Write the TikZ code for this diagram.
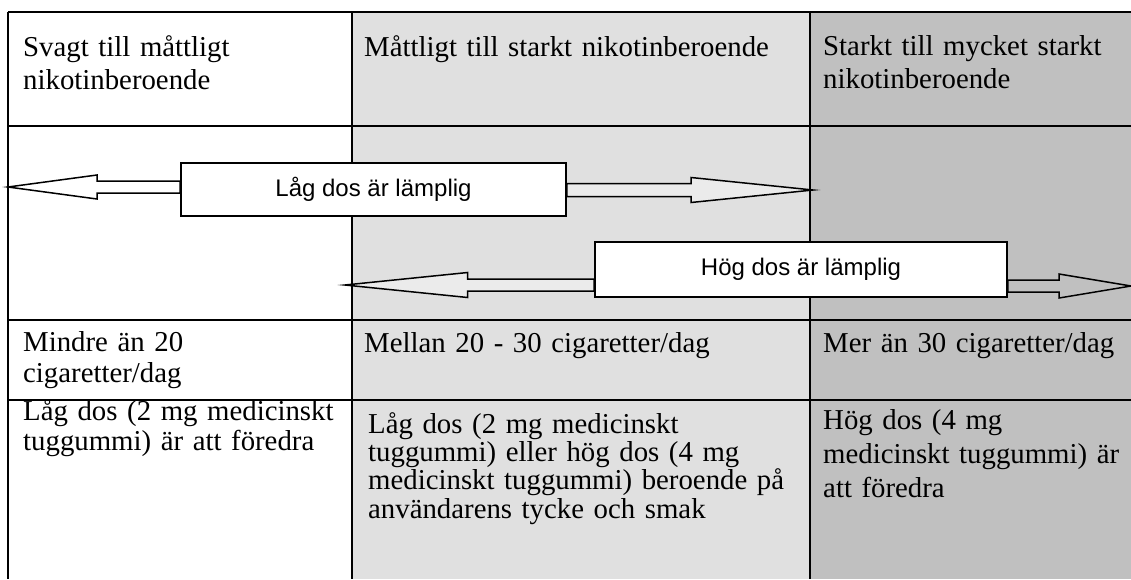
\documentclass[tikz,border=0pt]{standalone}
\usepackage{fontspec}
\setmainfont{Liberation Serif}
\setsansfont{Liberation Sans}
\usetikzlibrary{calc}
\definecolor{cellmid}{HTML}{E0E0E0}
\definecolor{celldark}{HTML}{C0C0C0}
\definecolor{arrowfill}{HTML}{EBEBEB}
\begin{document}
\begin{tikzpicture}[x=1pt,y=-1pt,
  cell/.style={anchor=base west, inner sep=0pt, align=left, text width=600pt,
    font=\fontsize{28.8}{#1}\selectfont},
  tableline/.style={line width=2pt, black},
  dosebox/.style={draw=black, line width=1.8pt, fill=white, inner sep=0pt,
    font=\sffamily\fontsize{24}{28}\selectfont},
  blockarrow/.style={draw=black, line width=1.5pt, line join=miter}]
\useasboundingbox (0,0) rectangle (1131,579);
% column shading
\fill[cellmid] (352,12) rectangle (810,579);
\fill[celldark] (810,12) rectangle (1131,579);
% table rules
\draw[tableline] (8,12) -- (1131,12);
\draw[tableline] (8,126) -- (1131,126);
\draw[tableline] (8,320) -- (1131,320);
\draw[tableline] (8,400) -- (1131,400);
\draw[tableline] (8,12) -- (8,579);
\draw[tableline] (352,12) -- (352,579);
\draw[tableline] (810,12) -- (810,579);
% texts
\node[cell=32.5] (h1) at (23,56.5) {Svagt till måttligt\\nikotinberoende};
\node[cell=32.5] (h2) at (364,56.5) {Måttligt till starkt nikotinberoende};
\node[cell=33] (h3) at (823,55.5) {Starkt till mycket starkt\\nikotinberoende};
\node[cell=31] (r1) at (23,351) {Mindre än 20\\cigaretter/dag};
\node[cell=31] (r2) at (364,352.5) {Mellan 20 - 30 cigaretter/dag};
\node[cell=31] (r3) at (823,352.5) {Mer än 30 cigaretter/dag};
\node[cell=30] (d1) at (23,420) {Låg dos (2 mg medicinskt\\tuggummi) är att föredra};
\node[cell=28.4] (d2) at (368,433) {Låg dos (2 mg medicinskt\\tuggummi) eller hög dos (4 mg\\medicinskt tuggummi) beroende på\\användarens tycke och smak};
\node[cell=34] (d3) at (823,429.5) {Hög dos (4 mg\\medicinskt tuggummi) är\\att föredra};
% box placeholders (for anchors; the visible boxes are drawn on top later)
\path (373.5,189.5) node[dosebox, draw=none, fill=none, text opacity=0, minimum width=385pt, minimum height=53pt] (low) {Låg dos är lämplig};
\path (801,269.5) node[dosebox, draw=none, fill=none, text opacity=0, minimum width=412pt, minimum height=55pt] (high) {Hög dos är lämplig};
% arrow tips
\coordinate (lowL) at (8,187);
\coordinate (lowR) at (813,190);
\coordinate (highL) at (345,285);
\coordinate (highR) at (1131,286);
% block arrows
\draw[blockarrow, fill=white] (lowL) -- ++(89,-12) -- ++(0,6)
  -- ($(low.west|-lowL)+(0,-6)$) -- ($(low.west|-lowL)+(0,6)$)
  -- ($(lowL)+(89,6)$) -- ++(0,6) -- cycle;
\draw[blockarrow, fill=arrowfill] (lowR) -- ++(-122,-12.5) -- ++(0,6)
  -- ($(low.east|-lowR)+(0,-6.5)$) -- ($(low.east|-lowR)+(0,6.5)$)
  -- ($(lowR)+(-122,6.5)$) -- ++(0,6) -- cycle;
\draw[blockarrow, fill=arrowfill] (highL) -- ++(122.7,-12.5) -- ++(0,6.5)
  -- ($(high.west|-highL)+(0,-6)$) -- ($(high.west|-highL)+(0,6)$)
  -- ($(highL)+(122.7,6)$) -- ++(0,6.5) -- cycle;
\draw[blockarrow] (highR) -- ++(-72,-12) -- ++(0,6)
  -- ($(high.east|-highR)+(0,-6)$) -- ($(high.east|-highR)+(0,6)$)
  -- ($(highR)+(-72,6)$) -- ++(0,6) -- cycle;
% visible boxes
\node[dosebox, minimum width=385pt, minimum height=53pt] (lowbox) at (low) {Låg dos är lämplig};
\node[dosebox, minimum width=412pt, minimum height=55pt] (highbox) at (high) {Hög dos är lämplig};
\end{tikzpicture}
\end{document}
